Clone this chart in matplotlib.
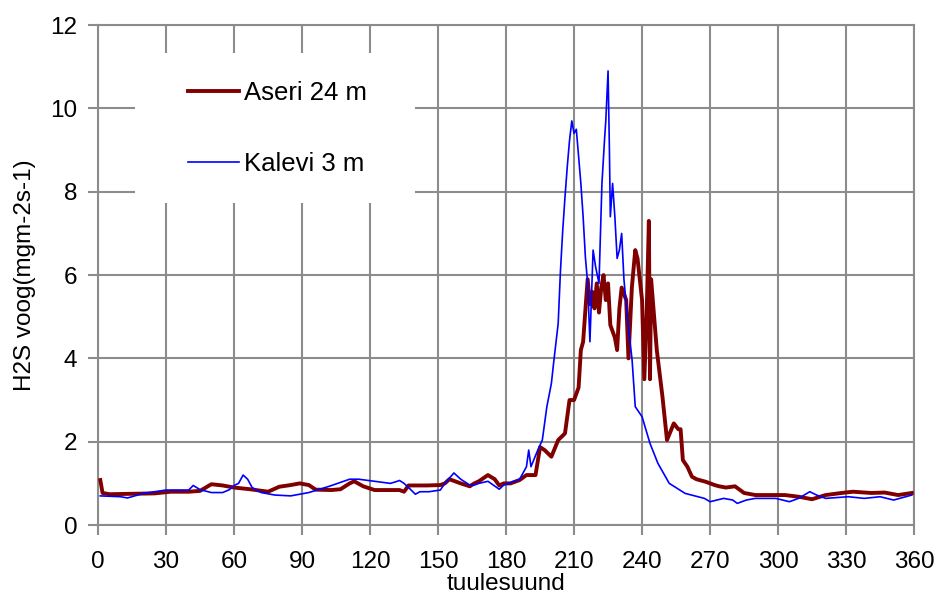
import matplotlib
matplotlib.use("Agg")
from matplotlib import pyplot as plt
from matplotlib.patches import Rectangle

plt.rcParams['font.family'] = ['Liberation Sans', 'DejaVu Sans']

# Aseri 24 m
aseri_x = [1, 2, 5, 15, 25, 32, 40, 45, 50, 55, 60, 67, 75, 80, 85, 89, 93, 96,
           103, 107, 111, 113, 117, 122, 128, 133, 135, 137, 145, 151, 153, 155,
           160, 164, 166, 168, 172, 175, 177, 179, 182, 186, 189, 193, 195, 197,
           200, 203, 206, 208, 210, 212, 213, 214, 215, 216, 217, 218, 219, 220,
           221, 222, 223, 224, 225, 226, 228, 229, 230, 231, 233, 234, 235.5, 237,
           238, 240, 241, 242, 243, 243.5, 244, 246.5, 249, 251, 254, 256, 257,
           258, 260, 262, 264, 268, 272, 274, 277, 281, 285, 290, 297, 303, 309,
           315, 321, 328, 333, 341, 347, 353, 359]
aseri_y = [1.08, 0.77, 0.74, 0.75, 0.76, 0.8, 0.8, 0.82, 0.98, 0.95, 0.9, 0.86,
           0.8, 0.92, 0.96, 1.0, 0.96, 0.85, 0.84, 0.86, 1.0, 1.05, 0.93, 0.84,
           0.84, 0.84, 0.8, 0.95, 0.95, 0.96, 1.0, 1.1, 1.0, 0.93, 1.0, 1.05, 1.2,
           1.1, 0.95, 1.0, 1.0, 1.08, 1.2, 1.2, 1.87, 1.8, 1.64, 2.04, 2.2, 3.0,
           3.0, 3.3, 4.2, 4.4, 5.16, 5.9, 5.3, 5.6, 5.2, 5.8, 5.1, 5.7, 6.0, 5.4,
           5.8, 4.8, 4.5, 4.2, 5.2, 5.7, 5.4, 4.0, 5.7, 6.6, 6.4, 5.4, 3.5, 5.0,
           7.3, 3.5, 5.9, 4.2, 3.08, 2.04, 2.44, 2.3, 2.3, 1.56, 1.4, 1.16, 1.1,
           1.04, 0.96, 0.93, 0.9, 0.93, 0.77, 0.72, 0.72, 0.72, 0.68, 0.62, 0.72,
           0.77, 0.8, 0.77, 0.78, 0.72, 0.77]

# Kalevi 3 m
kalevi_x = [1, 10, 13, 20, 30, 40, 42, 45, 50, 55, 58, 60, 62, 64, 66, 68, 72,
            78, 85, 93, 102, 111, 115, 122, 129, 132, 133, 135, 137, 140, 142,
            146, 151, 153, 157, 160, 164, 166, 168, 172, 177, 179, 186, 189, 190,
            191, 194, 196, 198, 200, 201, 203, 204, 205, 206, 207, 208, 209, 210,
            211, 213, 214, 215, 216, 217, 218.4, 219.5, 221, 222.3, 223.5, 224,
            225, 225.6, 226, 227, 228, 229, 230, 231, 232, 233.5, 235.6, 237, 240,
            243.5, 247, 252, 259, 267.5, 270, 276, 280, 282, 286,
            290, 299, 305, 309, 314, 317, 321, 331, 338, 345, 351, 355, 359]
kalevi_y = [0.7, 0.68, 0.65, 0.76, 0.84, 0.84, 0.95, 0.85, 0.78, 0.78, 0.85,
            0.95, 1.0, 1.2, 1.1, 0.9, 0.78, 0.72, 0.7, 0.78, 0.93, 1.1, 1.1, 1.05,
            1.0, 1.05, 1.07, 1.0, 0.9, 0.74, 0.8, 0.8, 0.84, 1.0, 1.25, 1.1, 0.96,
            0.96, 1.0, 1.05, 0.86, 0.96, 1.1, 1.4, 1.8, 1.4, 1.8, 2.04, 2.84, 3.4,
            3.9, 4.84, 6.1, 7.07, 7.87, 8.6, 9.23, 9.7, 9.4, 9.5, 8.2, 7.4, 6.43,
            5.8, 4.4, 6.6, 6.2, 5.8, 8.2, 9.3, 9.7, 10.9, 9.0, 7.4, 8.2, 7.4, 6.4,
            6.6, 7.0, 5.9, 5.0, 3.96, 2.84, 2.6, 1.96, 1.48, 1.0, 0.76, 0.64,
            0.56, 0.64, 0.6, 0.52, 0.6, 0.64, 0.64, 0.56, 0.64,
            0.8, 0.72, 0.64, 0.68, 0.64, 0.68, 0.6, 0.66, 0.72]

x_ticks = list(range(0, 361, 30))
y_ticks = list(range(0, 13, 2))

fig = plt.figure(figsize=(9.38, 5.98), dpi=100)
ax = fig.add_axes([0.1045, 0.122, 0.870, 0.836])

grey = '#8c8c8c'
ax.plot(aseri_x, aseri_y, color='#800000', lw=2.8, label='Aseri 24 m', zorder=3)
ax.plot(kalevi_x, kalevi_y, color='#0000ff', lw=1.2, label='Kalevi 3 m', zorder=4)

ax.set_xlim(0, 360)
ax.set_ylim(0, 12)
ax.set_xticks(x_ticks)
ax.set_yticks(y_ticks)
ax.grid(True, color=grey, lw=1.5)
for s in ax.spines.values():
    s.set_color(grey)
    s.set_linewidth(1.5)
ax.tick_params(colors=grey, labelcolor='black', labelsize=17.5, length=7, width=1.5)
ax.tick_params(axis='x', pad=12)
ax.tick_params(axis='y', pad=8)

ax.set_xlabel('tuulesuund', fontsize=17.5, labelpad=0)
ax.set_ylabel('H2S voog(mgm-2s-1)', fontsize=17.5, labelpad=10)

# white box behind the legend, hiding the grid
ax.add_patch(Rectangle((0.045, 0.644), 0.343, 0.300, transform=ax.transAxes,
                       facecolor='white', edgecolor='none', zorder=1.8))
ax.legend(loc='center left', bbox_to_anchor=(0.110, 0.793), frameon=False,
          fontsize=18.5, handlelength=2.0, handletextpad=0.2, labelspacing=1.84,
          borderpad=0, borderaxespad=0)

fig.savefig('out.png', dpi=100)
